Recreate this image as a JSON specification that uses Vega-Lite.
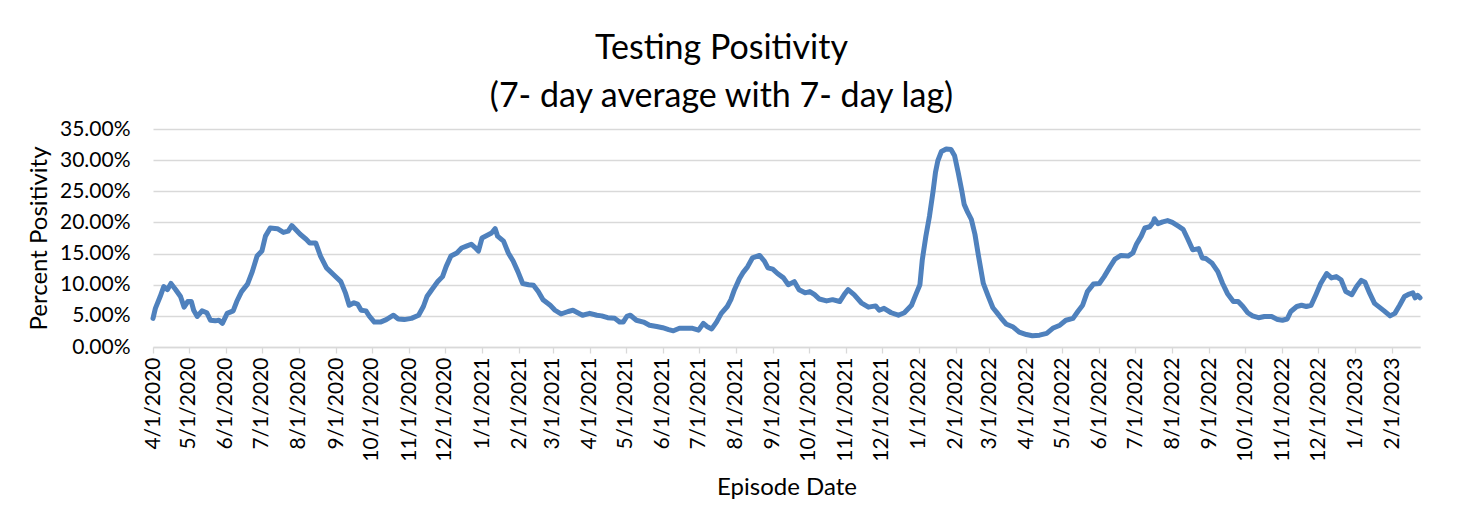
{
  "$schema": "https://vega.github.io/schema/vega-lite/v6.json",
  "width": 1267,
  "height": 218,
  "autosize": {"type": "none"},
  "padding": {"left": 153, "top": 129, "right": 57, "bottom": 170},
  "background": "white",
  "title": {
    "text": ["Testing Positivity", "(7- day average with 7- day lag)"],
    "font": "Lato",
    "fontSize": 34,
    "fontWeight": "normal",
    "color": "#000000",
    "lineHeight": 48,
    "anchor": "middle",
    "dx": -65,
    "offset": 4
  },
  "data": {
    "values": [
      {"d": "2020-04-01", "v": 0.046}, {"d": "2020-04-03", "v": 0.062}, {"d": "2020-04-07", "v": 0.081}, {"d": "2020-04-10", "v": 0.097},
      {"d": "2020-04-13", "v": 0.092}, {"d": "2020-04-16", "v": 0.102}, {"d": "2020-04-20", "v": 0.092}, {"d": "2020-04-24", "v": 0.081},
      {"d": "2020-04-27", "v": 0.064}, {"d": "2020-04-30", "v": 0.073}, {"d": "2020-05-03", "v": 0.073}, {"d": "2020-05-05", "v": 0.059},
      {"d": "2020-05-08", "v": 0.049}, {"d": "2020-05-12", "v": 0.058}, {"d": "2020-05-16", "v": 0.055}, {"d": "2020-05-19", "v": 0.043},
      {"d": "2020-05-23", "v": 0.042}, {"d": "2020-05-26", "v": 0.043}, {"d": "2020-05-29", "v": 0.038}, {"d": "2020-06-02", "v": 0.054},
      {"d": "2020-06-07", "v": 0.058}, {"d": "2020-06-10", "v": 0.073}, {"d": "2020-06-14", "v": 0.089}, {"d": "2020-06-19", "v": 0.101},
      {"d": "2020-06-23", "v": 0.121}, {"d": "2020-06-27", "v": 0.146}, {"d": "2020-07-01", "v": 0.154}, {"d": "2020-07-04", "v": 0.178},
      {"d": "2020-07-08", "v": 0.191}, {"d": "2020-07-14", "v": 0.190}, {"d": "2020-07-19", "v": 0.184}, {"d": "2020-07-23", "v": 0.186},
      {"d": "2020-07-26", "v": 0.195}, {"d": "2020-07-29", "v": 0.189}, {"d": "2020-08-02", "v": 0.181}, {"d": "2020-08-07", "v": 0.173},
      {"d": "2020-08-10", "v": 0.167}, {"d": "2020-08-15", "v": 0.167}, {"d": "2020-08-19", "v": 0.146}, {"d": "2020-08-24", "v": 0.127},
      {"d": "2020-08-30", "v": 0.116}, {"d": "2020-09-05", "v": 0.105}, {"d": "2020-09-09", "v": 0.086}, {"d": "2020-09-12", "v": 0.067},
      {"d": "2020-09-16", "v": 0.071}, {"d": "2020-09-19", "v": 0.069}, {"d": "2020-09-22", "v": 0.059}, {"d": "2020-09-26", "v": 0.058},
      {"d": "2020-09-29", "v": 0.049}, {"d": "2020-10-03", "v": 0.040}, {"d": "2020-10-08", "v": 0.040}, {"d": "2020-10-13", "v": 0.044},
      {"d": "2020-10-19", "v": 0.051}, {"d": "2020-10-23", "v": 0.045}, {"d": "2020-10-28", "v": 0.044}, {"d": "2020-11-03", "v": 0.046},
      {"d": "2020-11-09", "v": 0.051}, {"d": "2020-11-13", "v": 0.065}, {"d": "2020-11-16", "v": 0.081}, {"d": "2020-11-20", "v": 0.092},
      {"d": "2020-11-25", "v": 0.105}, {"d": "2020-11-29", "v": 0.113}, {"d": "2020-12-02", "v": 0.129}, {"d": "2020-12-06", "v": 0.146},
      {"d": "2020-12-11", "v": 0.151}, {"d": "2020-12-15", "v": 0.159}, {"d": "2020-12-19", "v": 0.162}, {"d": "2020-12-23", "v": 0.165},
      {"d": "2020-12-26", "v": 0.160}, {"d": "2020-12-29", "v": 0.154}, {"d": "2021-01-01", "v": 0.175}, {"d": "2021-01-05", "v": 0.179},
      {"d": "2021-01-09", "v": 0.183}, {"d": "2021-01-12", "v": 0.190}, {"d": "2021-01-14", "v": 0.178}, {"d": "2021-01-19", "v": 0.170},
      {"d": "2021-01-23", "v": 0.151}, {"d": "2021-01-27", "v": 0.138}, {"d": "2021-01-31", "v": 0.121}, {"d": "2021-02-04", "v": 0.102},
      {"d": "2021-02-09", "v": 0.100}, {"d": "2021-02-13", "v": 0.099}, {"d": "2021-02-17", "v": 0.089}, {"d": "2021-02-21", "v": 0.076},
      {"d": "2021-02-27", "v": 0.067}, {"d": "2021-03-03", "v": 0.059}, {"d": "2021-03-08", "v": 0.053}, {"d": "2021-03-14", "v": 0.057},
      {"d": "2021-03-18", "v": 0.059}, {"d": "2021-03-22", "v": 0.055}, {"d": "2021-03-26", "v": 0.051}, {"d": "2021-04-01", "v": 0.054},
      {"d": "2021-04-07", "v": 0.051}, {"d": "2021-04-11", "v": 0.050}, {"d": "2021-04-16", "v": 0.047}, {"d": "2021-04-22", "v": 0.046},
      {"d": "2021-04-26", "v": 0.040}, {"d": "2021-04-29", "v": 0.040}, {"d": "2021-05-02", "v": 0.049}, {"d": "2021-05-05", "v": 0.051},
      {"d": "2021-05-10", "v": 0.043}, {"d": "2021-05-16", "v": 0.040}, {"d": "2021-05-21", "v": 0.035}, {"d": "2021-05-27", "v": 0.033},
      {"d": "2021-06-01", "v": 0.031}, {"d": "2021-06-06", "v": 0.028}, {"d": "2021-06-10", "v": 0.026}, {"d": "2021-06-15", "v": 0.030},
      {"d": "2021-06-21", "v": 0.030}, {"d": "2021-06-26", "v": 0.030}, {"d": "2021-07-01", "v": 0.027}, {"d": "2021-07-05", "v": 0.038},
      {"d": "2021-07-08", "v": 0.033}, {"d": "2021-07-12", "v": 0.029}, {"d": "2021-07-16", "v": 0.040}, {"d": "2021-07-20", "v": 0.054},
      {"d": "2021-07-25", "v": 0.065}, {"d": "2021-07-28", "v": 0.076}, {"d": "2021-07-31", "v": 0.092}, {"d": "2021-08-04", "v": 0.109},
      {"d": "2021-08-07", "v": 0.119}, {"d": "2021-08-11", "v": 0.129}, {"d": "2021-08-15", "v": 0.143}, {"d": "2021-08-21", "v": 0.147},
      {"d": "2021-08-25", "v": 0.138}, {"d": "2021-08-28", "v": 0.127}, {"d": "2021-09-01", "v": 0.125}, {"d": "2021-09-05", "v": 0.118},
      {"d": "2021-09-10", "v": 0.111}, {"d": "2021-09-14", "v": 0.100}, {"d": "2021-09-19", "v": 0.105}, {"d": "2021-09-23", "v": 0.092},
      {"d": "2021-09-28", "v": 0.087}, {"d": "2021-10-02", "v": 0.089}, {"d": "2021-10-06", "v": 0.084}, {"d": "2021-10-10", "v": 0.077},
      {"d": "2021-10-16", "v": 0.074}, {"d": "2021-10-21", "v": 0.076}, {"d": "2021-10-27", "v": 0.073}, {"d": "2021-10-31", "v": 0.085},
      {"d": "2021-11-03", "v": 0.092}, {"d": "2021-11-08", "v": 0.084}, {"d": "2021-11-14", "v": 0.071}, {"d": "2021-11-20", "v": 0.064},
      {"d": "2021-11-26", "v": 0.066}, {"d": "2021-11-29", "v": 0.059}, {"d": "2021-12-03", "v": 0.062}, {"d": "2021-12-09", "v": 0.055},
      {"d": "2021-12-15", "v": 0.051}, {"d": "2021-12-20", "v": 0.055}, {"d": "2021-12-26", "v": 0.067}, {"d": "2021-12-30", "v": 0.086},
      {"d": "2022-01-02", "v": 0.100}, {"d": "2022-01-04", "v": 0.140}, {"d": "2022-01-07", "v": 0.178}, {"d": "2022-01-10", "v": 0.210},
      {"d": "2022-01-13", "v": 0.250}, {"d": "2022-01-15", "v": 0.280}, {"d": "2022-01-17", "v": 0.299}, {"d": "2022-01-20", "v": 0.314},
      {"d": "2022-01-24", "v": 0.318}, {"d": "2022-01-28", "v": 0.317}, {"d": "2022-01-31", "v": 0.307}, {"d": "2022-02-03", "v": 0.280},
      {"d": "2022-02-06", "v": 0.251}, {"d": "2022-02-08", "v": 0.229}, {"d": "2022-02-11", "v": 0.216}, {"d": "2022-02-14", "v": 0.205},
      {"d": "2022-02-17", "v": 0.181}, {"d": "2022-02-20", "v": 0.146}, {"d": "2022-02-24", "v": 0.102}, {"d": "2022-02-28", "v": 0.082},
      {"d": "2022-03-04", "v": 0.063}, {"d": "2022-03-07", "v": 0.056}, {"d": "2022-03-11", "v": 0.046}, {"d": "2022-03-15", "v": 0.037},
      {"d": "2022-03-21", "v": 0.032}, {"d": "2022-03-26", "v": 0.024}, {"d": "2022-04-01", "v": 0.020}, {"d": "2022-04-06", "v": 0.018},
      {"d": "2022-04-12", "v": 0.019}, {"d": "2022-04-18", "v": 0.022}, {"d": "2022-04-23", "v": 0.030}, {"d": "2022-04-29", "v": 0.035},
      {"d": "2022-05-04", "v": 0.043}, {"d": "2022-05-10", "v": 0.046}, {"d": "2022-05-14", "v": 0.057}, {"d": "2022-05-18", "v": 0.067},
      {"d": "2022-05-22", "v": 0.089}, {"d": "2022-05-27", "v": 0.101}, {"d": "2022-06-01", "v": 0.102}, {"d": "2022-06-05", "v": 0.113},
      {"d": "2022-06-10", "v": 0.129}, {"d": "2022-06-14", "v": 0.141}, {"d": "2022-06-19", "v": 0.147}, {"d": "2022-06-25", "v": 0.146},
      {"d": "2022-06-29", "v": 0.151}, {"d": "2022-07-02", "v": 0.165}, {"d": "2022-07-06", "v": 0.178}, {"d": "2022-07-09", "v": 0.191},
      {"d": "2022-07-13", "v": 0.193}, {"d": "2022-07-16", "v": 0.200}, {"d": "2022-07-17", "v": 0.206}, {"d": "2022-07-20", "v": 0.198},
      {"d": "2022-07-24", "v": 0.201}, {"d": "2022-07-28", "v": 0.203}, {"d": "2022-08-01", "v": 0.200}, {"d": "2022-08-06", "v": 0.194},
      {"d": "2022-08-10", "v": 0.189}, {"d": "2022-08-14", "v": 0.173}, {"d": "2022-08-18", "v": 0.156}, {"d": "2022-08-23", "v": 0.158},
      {"d": "2022-08-26", "v": 0.143}, {"d": "2022-08-29", "v": 0.142}, {"d": "2022-09-03", "v": 0.135}, {"d": "2022-09-08", "v": 0.121},
      {"d": "2022-09-12", "v": 0.102}, {"d": "2022-09-16", "v": 0.086}, {"d": "2022-09-21", "v": 0.073}, {"d": "2022-09-25", "v": 0.073},
      {"d": "2022-09-29", "v": 0.065}, {"d": "2022-10-03", "v": 0.055}, {"d": "2022-10-07", "v": 0.050}, {"d": "2022-10-12", "v": 0.047},
      {"d": "2022-10-17", "v": 0.049}, {"d": "2022-10-23", "v": 0.049}, {"d": "2022-10-28", "v": 0.044}, {"d": "2022-11-01", "v": 0.043},
      {"d": "2022-11-05", "v": 0.045}, {"d": "2022-11-08", "v": 0.057}, {"d": "2022-11-13", "v": 0.065}, {"d": "2022-11-17", "v": 0.067},
      {"d": "2022-11-21", "v": 0.065}, {"d": "2022-11-25", "v": 0.067}, {"d": "2022-11-29", "v": 0.084}, {"d": "2022-12-03", "v": 0.102},
      {"d": "2022-12-08", "v": 0.118}, {"d": "2022-12-12", "v": 0.111}, {"d": "2022-12-16", "v": 0.113}, {"d": "2022-12-20", "v": 0.108},
      {"d": "2022-12-24", "v": 0.089}, {"d": "2022-12-29", "v": 0.084}, {"d": "2023-01-02", "v": 0.097}, {"d": "2023-01-06", "v": 0.107},
      {"d": "2023-01-09", "v": 0.104}, {"d": "2023-01-13", "v": 0.086}, {"d": "2023-01-17", "v": 0.070}, {"d": "2023-01-21", "v": 0.064},
      {"d": "2023-01-25", "v": 0.058}, {"d": "2023-01-30", "v": 0.050}, {"d": "2023-02-03", "v": 0.054}, {"d": "2023-02-07", "v": 0.067},
      {"d": "2023-02-11", "v": 0.081}, {"d": "2023-02-15", "v": 0.085}, {"d": "2023-02-18", "v": 0.087}, {"d": "2023-02-20", "v": 0.079},
      {"d": "2023-02-22", "v": 0.083}, {"d": "2023-02-24", "v": 0.079}
    ]
  },
  "mark": {"type": "line", "color": "#4F81BD", "strokeWidth": 5, "strokeJoin": "round", "strokeCap": "round"},
  "encoding": {
    "x": {
      "field": "d",
      "type": "temporal",
      "scale": {"type": "utc", "nice": false},
      "axis": {
        "title": "Episode Date",
        "format": "%-m/%-d/%Y",
        "labelAngle": -90,
        "tickCount": {"interval": "month", "step": 1},
        "grid": false,
        "domainColor": "#D9D9D9",
        "domainWidth": 1.3,
        "tickColor": "#D9D9D9",
        "tickWidth": 1.3,
        "tickSize": 6,
        "labelPadding": 4,
        "labelFont": "Lato",
        "labelFontSize": 21,
        "labelColor": "#000000",
        "labelOverlap": false,
        "labelFlush": false,
        "titleFont": "Lato",
        "titleFontSize": 24,
        "titleFontWeight": "normal",
        "titleColor": "#000000",
        "titlePadding": 14
      }
    },
    "y": {
      "field": "v",
      "type": "quantitative",
      "scale": {"domain": [0, 0.35], "nice": false},
      "axis": {
        "title": "Percent Positivity",
        "format": ".2%",
        "values": [0, 0.05, 0.1, 0.15, 0.2, 0.25, 0.3, 0.35],
        "grid": true,
        "gridColor": "#D9D9D9",
        "gridWidth": 1.3,
        "domain": false,
        "ticks": false,
        "labelPadding": 23,
        "labelFont": "Lato",
        "labelFontSize": 21,
        "labelColor": "#000000",
        "titleFont": "Lato",
        "titleFontSize": 24,
        "titleFontWeight": "normal",
        "titleColor": "#000000",
        "titlePadding": 8
      }
    }
  },
  "config": {"view": {"stroke": null}}
}
